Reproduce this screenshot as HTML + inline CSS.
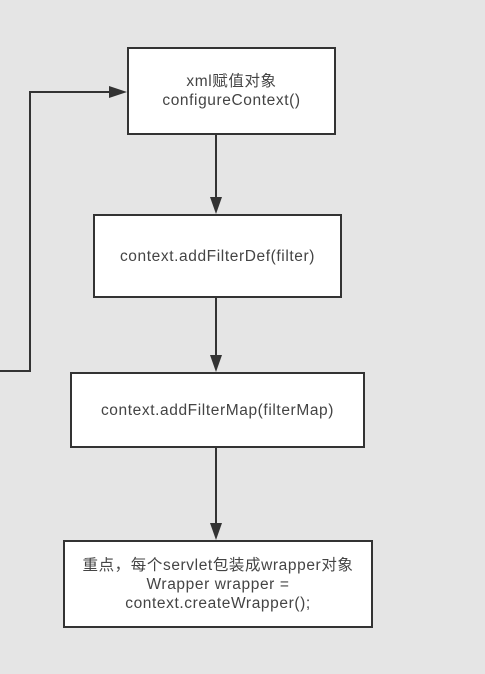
<!DOCTYPE html>
<html><head><style>
body{margin:0;width:485px;height:674px;background:#e5e5e5;overflow:hidden;font-family:"Liberation Sans","Noto Sans CJK SC",sans-serif;}
.b{position:absolute;background:#fff;border:2px solid #333;box-sizing:border-box;display:flex;align-items:center;justify-content:center;text-align:center;font-size:15.5px;letter-spacing:0.6px;color:#444;line-height:19px;white-space:nowrap;}
.c{font-size:14px;letter-spacing:0}
svg{position:absolute;left:0;top:0}
</style></head><body>
<svg width="485" height="674">
<g stroke="#333" stroke-width="2" fill="none">
<polyline points="0,371 30,371 30,92 112,92"/>
<line x1="216" y1="134" x2="216" y2="200"/>
<line x1="216" y1="297" x2="216" y2="358"/>
<line x1="216" y1="447" x2="216" y2="526"/>
</g>
<g fill="#333">
<polygon points="127,92 109,86 109,98"/>
<polygon points="216,214 210,197 222,197"/>
<polygon points="216,372 210,355 222,355"/>
<polygon points="216,540 210,523 222,523"/>
</g>
</svg>
<div class="b" style="left:127px;top:47px;width:209px;height:88px;">xml赋值对象<br>configureContext()</div>
<div class="b" style="left:93px;top:214px;width:249px;height:84px;">context.addFilterDef(filter)</div>
<div class="b" style="left:70px;top:372px;width:295px;height:76px;">context.addFilterMap(filterMap)</div>
<div class="b" style="left:63px;top:540px;width:310px;height:88px;"><div>重点，每个servlet包装成wrapper对象<br>Wrapper wrapper =<br>context.createWrapper();</div></div>
</body></html>
